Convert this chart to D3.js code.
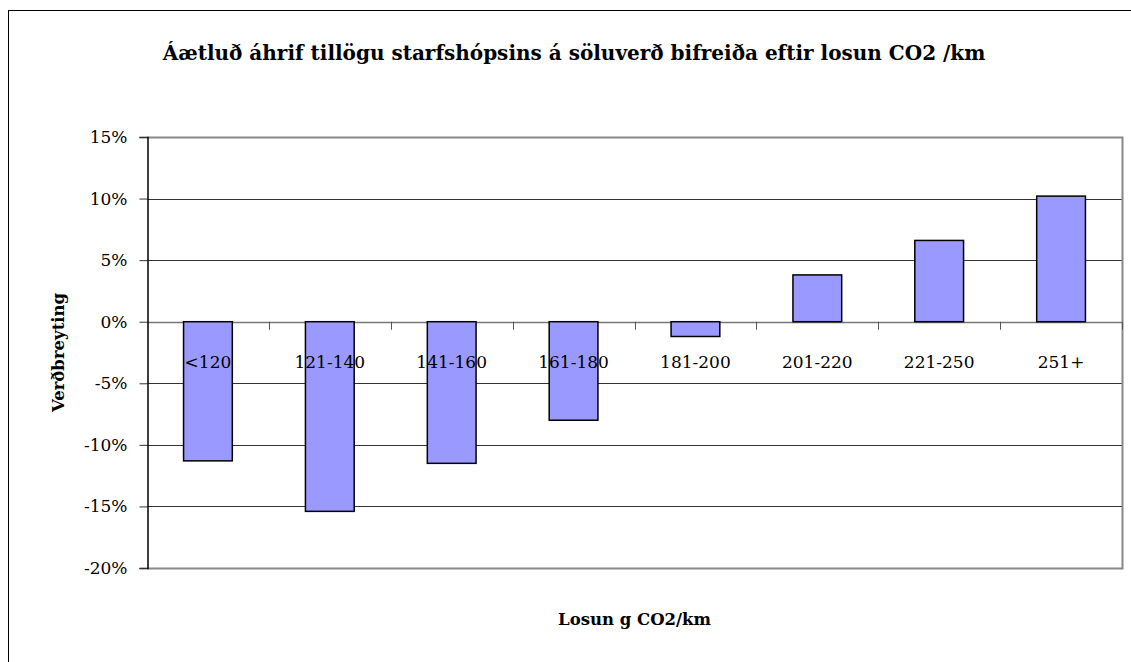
<!DOCTYPE html>
<html>
<head>
<meta charset="utf-8">
<script src="https://cdn.jsdelivr.net/npm/d3@7"></script>
<style>
  body { margin: 0; background: #fff; }
  svg text { font-family: "DejaVu Serif", "Liberation Serif", serif; fill: #000; }
</style>
</head>
<body>
<div id="chart"></div>
<script>
const categories = ['<120', '121-140', '141-160', '161-180', '181-200', '201-220', '221-250', '251+'];
const values = [-0.113, -0.154, -0.115, -0.080, -0.012, 0.038, 0.066, 0.102];
const yTicks = [-0.20, -0.15, -0.10, -0.05, 0, 0.05, 0.10, 0.15];

const width = 1131;
const height = 662;
const margin = { top: 137, right: 9, bottom: 94, left: 147 };

const svg = d3.select('#chart')
    .append('svg')
    .attr('width', width)
    .attr('height', height);

// outer chart border
svg.append('rect')
    .attr('x', 8.5)
    .attr('y', 10.5)
    .attr('width', width)
    .attr('height', height)
    .attr('fill', 'none')
    .attr('stroke', '#000')
    .attr('stroke-width', 1);

const x = d3.scaleBand()
    .domain(categories)
    .range([margin.left, width - margin.right])
    .paddingInner(0.6)
    .paddingOuter(0.3);

const y = d3.scaleLinear()
    .domain([-0.20, 0.15])
    .range([height - margin.bottom, margin.top]);

const plotLeft = margin.left;
const plotRight = width - margin.right;
const ypx = d => Math.round(y(d)) + 0.5;

// grid lines
svg.append('g')
    .selectAll('line')
    .data(yTicks.filter(t => t !== 0.15 && t !== -0.20 && t !== 0))
    .join('line')
    .attr('x1', plotLeft)
    .attr('x2', plotRight)
    .attr('y1', ypx)
    .attr('y2', ypx)
    .attr('stroke', '#333')
    .attr('stroke-width', 1);

// plot area frame (top, right, bottom in grey)
svg.append('path')
    .attr('d', `M${plotLeft},${ypx(0.15)} H${plotRight + 0.5} V${ypx(-0.20)} H${plotLeft}`)
    .attr('fill', 'none')
    .attr('stroke', '#888')
    .attr('stroke-width', 2);

// x axis along zero line
const gx = svg.append('g');
gx.append('line')
    .attr('x1', plotLeft)
    .attr('x2', plotRight)
    .attr('y1', ypx(0))
    .attr('y2', ypx(0))
    .attr('stroke', '#777')
    .attr('stroke-width', 1.5);
gx.selectAll('.xtick')
    .data(d3.range(1, categories.length + 1))
    .join('line')
    .attr('class', 'xtick')
    .attr('x1', i => Math.round(plotLeft + (plotRight - plotLeft) * i / categories.length) + 0.5)
    .attr('x2', i => Math.round(plotLeft + (plotRight - plotLeft) * i / categories.length) + 0.5)
    .attr('y1', y(0))
    .attr('y2', y(0) + 8)
    .attr('stroke', '#555');

// bars
svg.append('g')
    .selectAll('rect')
    .data(categories.map((c, i) => ({ c, v: values[i] })))
    .join('rect')
    .attr('x', d => x(d.c))
    .attr('y', d => y(Math.max(0, d.v)))
    .attr('width', x.bandwidth())
    .attr('height', d => Math.abs(y(d.v) - y(0)))
    .attr('fill', '#9999ff')
    .attr('stroke', '#000')
    .attr('stroke-width', 1.5);

// category labels sit on top of the bars
svg.append('g')
    .selectAll('text')
    .data(categories)
    .join('text')
    .attr('x', d => x(d) + x.bandwidth() / 2)
    .attr('y', y(0) + 46)
    .attr('text-anchor', 'middle')
    .style('font-size', '17px')
    .text(d => d);

// y axis
const yAxis = d3.axisLeft(y)
    .tickValues(yTicks)
    .tickSize(8)
    .tickFormat(d => d3.format('.0%')(d).replace('−', '-'));

const gy = svg.append('g')
    .attr('transform', `translate(${plotLeft + 0.5},0)`)
    .call(yAxis);
gy.select('.domain').attr('stroke', '#000').attr('stroke-width', 1.5);
gy.selectAll('.tick line').attr('stroke', '#333');
gy.selectAll('.tick text')
    .attr('x', -20)
    .style('font-size', '17px')
    .style('font-family', '"DejaVu Serif", serif');

// titles
svg.append('text')
    .attr('x', 574)
    .attr('y', 60)
    .attr('text-anchor', 'middle')
    .style('font-size', '20px')
    .style('font-weight', 'bold')
    .text('Áætluð áhrif tillögu starfshópsins á söluverð bifreiða eftir losun CO2 /km');

svg.append('text')
    .attr('x', (plotLeft + plotRight) / 2)
    .attr('y', 625)
    .attr('text-anchor', 'middle')
    .style('font-size', '16.5px')
    .style('font-weight', 'bold')
    .text('Losun g CO2/km');

svg.append('text')
    .attr('transform', `translate(64,${(y(0.15) + y(-0.20)) / 2}) rotate(-90)`)
    .attr('text-anchor', 'middle')
    .style('font-size', '16.5px')
    .style('font-weight', 'bold')
    .text('Verðbreyting');
</script>
</body>
</html>
